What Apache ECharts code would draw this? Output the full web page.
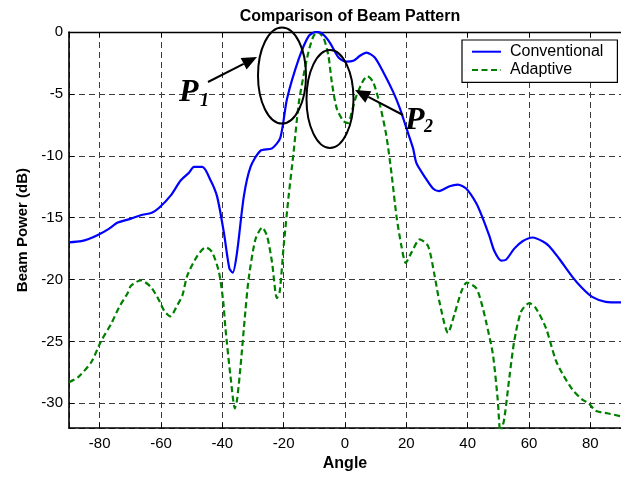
<!DOCTYPE html>
<html>
<head>
<meta charset="utf-8">
<script src="https://cdn.jsdelivr.net/npm/echarts@6/dist/echarts.min.js"></script>
<style>
  html, body { margin: 0; padding: 0; background: #fff; }
  #chart { width: 621px; height: 477px; }
</style>
</head>
<body>
<div id="chart"></div>
<script>
// Beam power (dB) against steering angle (degrees)
const convAngle = [-90, -86, -83.8, -80.6, -77, -74.1, -70, -66.6, -63, -60.6, -56.8, -53.6, -51, -49.2, -46.5,
  -43.8, -41.7, -39.5, -37.7, -36.6, -35.2, -33, -30.8, -27.6, -23.8, -21.1, -18.9, -15.1, -11.9, -9.5,
  -7.6, -4.9, -2.1, 0.5, 2.7, 5, 7, 9.7, 12.5, 15.7, 17.9, 20, 22.2, 23.3, 26, 28.7, 30.6, 34.1, 36.8,
  39.5, 42.8, 44.9, 47.1, 48.7, 50.9, 52.5, 55.2, 57.9, 61.2, 64.4, 66.6, 69.8, 74.2, 77.4, 80.6, 85, 90];
const convPower = [-17.0, -16.9, -16.75, -16.4, -15.9, -15.4, -15.1, -14.8, -14.6, -14.2, -13.2, -12.0, -11.4, -10.9, -10.9,
  -12.0, -13.3, -16.2, -19.1, -19.45, -17.8, -13.3, -10.9, -9.6, -9.4, -8.55, -5.4, -2.2, -0.35, 0,
  -0.1, -0.87, -2.06, -2.4, -2.33, -1.9, -1.67, -2.06, -3.25, -4.84, -6.17, -7.75, -9.4, -10.6, -11.7, -12.65, -12.86, -12.46, -12.33,
  -12.65, -13.84, -15.03, -16.5, -17.7, -18.47, -18.4, -17.5, -16.9, -16.6, -16.9, -17.3, -18.3, -19.8, -20.7, -21.4, -21.8, -21.85];

const adaptAngle = [-90, -87.1, -82.8, -79.5, -76.3, -73.6, -70.9, -69.8, -66.6, -63.3, -60.8, -59, -57, -54.6, -53,
  -51.4, -48.1, -45.4, -43.3, -41.1, -39.7, -39, -37.3, -35.9, -35.2, -34.1, -32.5, -31.4, -29.2, -27,
  -25.4, -23.8, -22.2, -21.3, -20, -18.4, -16.8, -15.1, -13.5, -11.9, -10.3, -9, -7, -5.4, -4.3,
  -2.7, -0.5, 1.1, 2.2, 3.8, 6, 7.3, 9.2, 11.4, 13.5, 15.2, 16.8, 18.4, 19.8, 21.7, 24.4, 27.1,
  29.2, 30.8, 33.6, 35.7, 37.9, 39.7, 42.8, 44.4, 46, 48.2, 49.8, 50.7, 51.9, 53.6, 55.2, 57.4,
  60.1, 62.2, 65.5, 68.7, 70.9, 74.2, 77.4, 79.5, 81.7, 85.5, 90];
const adaptPower = [-28.3, -27.9, -26.7, -24.95, -23.6, -22.2, -21.1, -20.5, -20.06, -20.6, -21.6, -22.5, -22.97, -22.04, -21.25,
  -19.66, -18.07, -17.4, -17.8, -19.4, -21.8, -23.9, -27.9, -30.4, -29.7, -27.1, -22.6, -19.9, -16.75, -15.8,
  -16.5, -18.6, -21.5, -21.0, -17.3, -13.3, -9.8, -5.8, -3.5, -1.6, -0.35, 0, -0.48, -1.94, -4.05,
  -6.17, -7.2, -7.36, -6.43, -5.1, -3.9, -3.57, -4.05, -5.9, -8.4, -11.5, -14.9, -17.3, -18.65, -17.8, -16.75, -17.3,
  -19.66, -21.8, -24.3, -22.8, -21.0, -20.24, -20.7, -21.8, -23.4, -26.0, -29.7, -32.4, -31.3, -27.9, -24.95, -22.6,
  -21.9, -22.3, -23.9, -26.5, -27.6, -28.9, -29.7, -30.0, -30.6, -30.8, -31.05];

const seriesNames = ['Conventional', 'Adaptive'];
const titleText = 'Comparison of Beam Pattern';
const xName = 'Angle';
const yName = 'Beam Power (dB)';

const pairs = (xs, ys) => xs.map((x, i) => [x, ys[i]]);

const sans = '"Liberation Sans", Arial, sans-serif';
const serif = '"Liberation Serif", "Times New Roman", serif';
const gridDash = { color: '#3a3a3a', width: 1, type: [6, 4] };

// Arrow: shaft plus filled head pointing at (x2, y2)
function arrow(x1, y1, x2, y2) {
  const dx = x2 - x1, dy = y2 - y1, len = Math.hypot(dx, dy);
  const ux = dx / len, uy = dy / len, hl = 15, hw = 6.5;
  const bx = x2 - ux * hl, by = y2 - uy * hl;
  return [
    { type: 'line', shape: { x1, y1, x2: bx, y2: by }, style: { stroke: '#000', lineWidth: 2 }, z: 100 },
    { type: 'polygon', shape: { points: [[x2, y2], [bx - uy * hw, by + ux * hw], [bx + uy * hw, by - ux * hw]] },
      style: { fill: '#000' }, z: 100 }
  ];
}

const chart = echarts.init(document.getElementById('chart'), null, { renderer: 'canvas' });

chart.setOption({
  backgroundColor: '#fff',
  animation: false,
  title: {
    text: titleText, left: 345, top: 4, textAlign: 'center',
    textStyle: { fontFamily: sans, fontSize: 16, fontWeight: 'bold', color: '#000' }
  },
  grid: { left: 69, top: 32, width: 556, height: 403 },
  legend: {
    data: seriesNames, orient: 'vertical', left: 462, top: 40,
    padding: [3.7, 14, 4.3, 9], itemGap: 2.3, itemWidth: 29, itemHeight: 14,
    itemStyle: { opacity: 0 },
    backgroundColor: '#fff', borderColor: '#000', borderWidth: 1.2,
    textStyle: { fontFamily: sans, fontSize: 16, lineHeight: 16, color: '#000', padding: [0, 0, 0, 4] }
  },
  xAxis: [{
    type: 'value', min: -90, max: 90, splitNumber: 9,
    name: xName, nameLocation: 'middle', nameGap: 25,
    nameTextStyle: { fontFamily: sans, fontSize: 16, fontWeight: 'bold', color: '#000' },
    axisLine: { onZero: false, lineStyle: { color: '#000', width: 1.6 } },
    axisTick: { inside: true, length: 5, lineStyle: { color: '#000' } },
    axisLabel: { margin: 8, showMinLabel: false, showMaxLabel: false,
      fontFamily: sans, fontSize: 15, color: '#000' },
    splitLine: { show: true, lineStyle: gridDash }
  }, {
    type: 'value', min: -90, max: 90, splitNumber: 9, position: 'top',
    axisLine: { onZero: false, lineStyle: { color: '#000', width: 1.4 } },
    axisTick: { inside: true, length: 5, lineStyle: { color: '#000' } },
    axisLabel: { show: false }, splitLine: { show: false }
  }],
  yAxis: {
    type: 'value', min: -32, max: 0, splitNumber: 6,
    name: yName, nameLocation: 'middle', nameGap: 39,
    nameTextStyle: { fontFamily: sans, fontSize: 15, fontWeight: 'bold', color: '#000' },
    axisLine: { show: true, onZero: false, lineStyle: { color: '#000', width: 1.6 } },
    axisTick: { show: true, inside: true, length: 5, lineStyle: { color: '#000' } },
    axisLabel: { margin: 6, showMinLabel: false, fontFamily: sans, fontSize: 15, color: '#000' },
    splitLine: { show: true, lineStyle: gridDash }
  },
  series: [{
    name: seriesNames[0], type: 'line', data: pairs(convAngle, convPower),
    symbol: 'none', smooth: 0.25, clip: true,
    lineStyle: { color: '#0000ff', width: 2.2 }, itemStyle: { color: '#0000ff' }, z: 3
  }, {
    name: seriesNames[1], type: 'line', data: pairs(adaptAngle, adaptPower),
    symbol: 'none', smooth: 0.25, clip: true,
    lineStyle: { color: '#008000', width: 2.2, type: [6, 3.5] }, itemStyle: { color: '#008000' }, z: 2
  }],
  graphic: [
    { type: 'ellipse', shape: { cx: 282, cy: 75.5, rx: 24, ry: 48 },
      style: { fill: null, stroke: '#000', lineWidth: 2 }, z: 100 },
    { type: 'ellipse', shape: { cx: 330, cy: 99, rx: 23.5, ry: 49 },
      style: { fill: null, stroke: '#000', lineWidth: 2 }, z: 100 },
    ...arrow(208, 82, 257, 57),
    ...arrow(403, 115, 355, 90),
    { type: 'text', x: 179, y: 92.5, z: 100,
      style: { text: 'P', font: 'italic bold 32px ' + serif, fill: '#000', verticalAlign: 'middle' } },
    { type: 'text', x: 200, y: 101, z: 100,
      style: { text: '1', font: 'italic bold 18px ' + serif, fill: '#000', verticalAlign: 'middle' } },
    { type: 'text', x: 405, y: 121, z: 100,
      style: { text: 'P', font: 'italic bold 32px ' + serif, fill: '#000', verticalAlign: 'middle' } },
    { type: 'text', x: 424, y: 127, z: 100,
      style: { text: '2', font: 'italic bold 18px ' + serif, fill: '#000', verticalAlign: 'middle' } }
  ]
});
</script>
</body>
</html>
